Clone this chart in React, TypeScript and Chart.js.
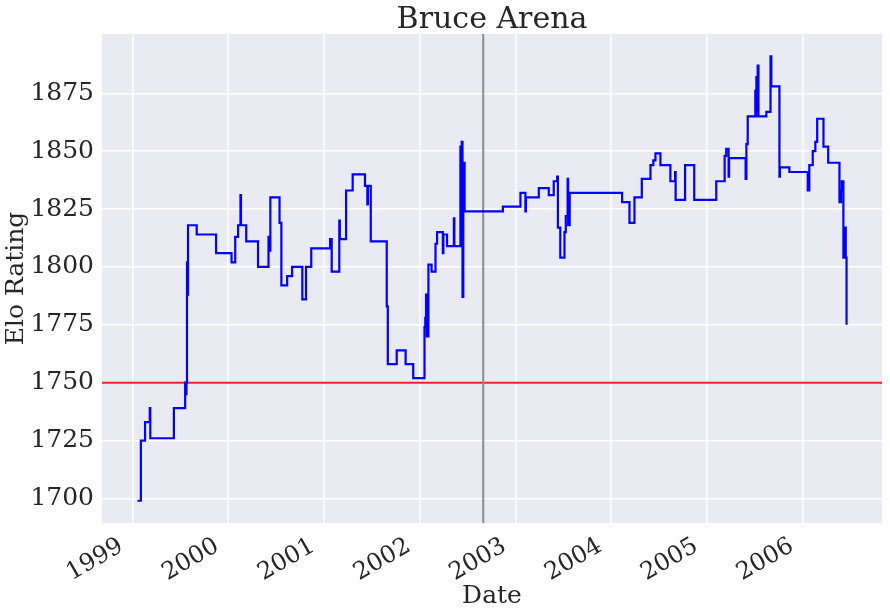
import React, { useEffect, useRef } from 'react';
import { Chart, registerables } from 'chart.js';

Chart.register(...registerables);

const TITLE = 'Bruce Arena';
const X_LABEL = 'Date';
const Y_LABEL = 'Elo Rating';

const dates = [
  '1999-01-20', '1999-02-02', '1999-02-18', '1999-03-08', '1999-03-10', '1999-06-08',
  '1999-07-21', '1999-07-24', '1999-07-26', '1999-07-28', '1999-07-30', '1999-08-01',
  '1999-09-03', '1999-11-16', '2000-01-14', '2000-01-28', '2000-02-08', '2000-02-17',
  '2000-02-19', '2000-03-10', '2000-04-24', '2000-06-03', '2000-06-05', '2000-06-10',
  '2000-07-15', '2000-07-22', '2000-08-13', '2000-09-01', '2000-10-10', '2000-10-24',
  '2000-11-13', '2001-01-24', '2001-01-30', '2001-02-28', '2001-03-02', '2001-03-26',
  '2001-04-20', '2001-06-06', '2001-06-15', '2001-06-17', '2001-06-28', '2001-08-28',
  '2001-09-01', '2001-10-05', '2001-11-08', '2001-12-07', '2002-01-19', '2002-01-22',
  '2002-01-25', '2002-01-28', '2002-02-03', '2002-02-15', '2002-03-02', '2002-03-08',
  '2002-03-30', '2002-04-01', '2002-04-15', '2002-05-11', '2002-05-13', '2002-06-05',
  '2002-06-07', '2002-06-10', '2002-06-13', '2002-06-16', '2002-06-21', '2002-11-14',
  '2003-01-20', '2003-02-08', '2003-02-10', '2003-03-31', '2003-05-08', '2003-05-27',
  '2003-06-09', '2003-06-12', '2003-06-21', '2003-07-07', '2003-07-12', '2003-07-19',
  '2003-07-21', '2003-07-27', '2004-02-12', '2004-03-11', '2004-03-30', '2004-04-27',
  '2004-05-30', '2004-06-10', '2004-06-18', '2004-07-07', '2004-08-14', '2004-09-01',
  '2004-09-03', '2004-10-09', '2004-11-13', '2005-02-05', '2005-03-09', '2005-03-15',
  '2005-03-24', '2005-03-26', '2005-05-28', '2005-05-31', '2005-06-05', '2005-07-04',
  '2005-07-06', '2005-07-08', '2005-07-10', '2005-07-13', '2005-07-16', '2005-08-15',
  '2005-08-31', '2005-09-03', '2005-10-04', '2005-10-06', '2005-11-11', '2006-01-20',
  '2006-01-26', '2006-02-08', '2006-02-18', '2006-02-25', '2006-03-21', '2006-04-08',
  '2006-05-21', '2006-05-27', '2006-05-30', '2006-06-05', '2006-06-12', '2006-06-14',
  '2006-06-17',
];

const elo = [
  1699, 1725, 1733, 1739, 1726, 1739,
  1750, 1745, 1750, 1802, 1788, 1818,
  1814, 1806, 1802, 1813, 1818, 1831,
  1818, 1811, 1800, 1813, 1807, 1830,
  1819, 1792, 1796, 1800, 1786, 1800,
  1808, 1812, 1798, 1820, 1812, 1833,
  1840, 1835, 1827, 1835, 1811, 1783,
  1758, 1764, 1758, 1752, 1774, 1778,
  1788, 1770, 1801, 1798, 1810, 1815,
  1806, 1814, 1809, 1821, 1809, 1852,
  1810, 1854, 1787, 1845, 1824, 1826,
  1832, 1824, 1830, 1834, 1831, 1837,
  1839, 1817, 1804, 1815, 1822, 1838,
  1818, 1832, 1828, 1819, 1830, 1838,
  1844, 1846, 1849, 1844, 1837, 1841,
  1829, 1844, 1829, 1837, 1848, 1851,
  1839, 1847, 1838, 1853, 1865, 1876,
  1865, 1882, 1866, 1887, 1865, 1867,
  1891, 1878, 1839, 1843, 1841, 1833,
  1844, 1850, 1854, 1864, 1852, 1845,
  1828, 1833, 1837, 1804, 1817, 1804,
  1775,
];

const yearTicks = [1999, 2000, 2001, 2002, 2003, 2004, 2005, 2006];
const eloTicks = [1700, 1725, 1750, 1775, 1800, 1825, 1850, 1875];
const baselineElo = 1750;
const markerDate = '2002-08-31';

export default function App() {
  const ref = useRef<HTMLCanvasElement>(null);

  useEffect(() => {
    document.body.style.margin = '0';
    const canvas = ref.current;
    if (!canvas) return;

    const xs = dates.map((d) => Date.parse(d));
    const xMin0 = Math.min(...xs);
    const xMax0 = Math.max(...xs);
    const xPad = (xMax0 - xMin0) * 0.05;
    const xMin = xMin0 - xPad;
    const xMax = xMax0 + xPad;
    const yMin0 = Math.min(...elo);
    const yMax0 = Math.max(...elo);
    const yPad = (yMax0 - yMin0) * 0.05;
    const yMin = yMin0 - yPad;
    const yMax = yMax0 + yPad;
    const markerX = Date.parse(markerDate);

    const family = 'DejaVu Serif';
    const textColor = '#262626';

    const bgPlugin = {
      id: 'plotBg',
      beforeDraw(chart: any) {
        const { ctx, chartArea: a } = chart;
        ctx.save();
        ctx.fillStyle = '#EAEAF2';
        ctx.fillRect(a.left, a.top, a.right - a.left, a.bottom - a.top);
        ctx.restore();
      },
    };

    const titlePlugin = {
      id: 'plotTitle',
      afterDraw(chart: any) {
        const { ctx, chartArea: a } = chart;
        ctx.save();
        ctx.fillStyle = textColor;
        ctx.font = `30px "${family}"`;
        ctx.textAlign = 'center';
        ctx.textBaseline = 'alphabetic';
        ctx.fillText(TITLE, (a.left + a.right) / 2, 27.5);
        ctx.restore();
      },
    };

    const chart = new Chart(canvas, {
      type: 'line',
      data: {
        datasets: [
          {
            data: xs.map((x, i) => ({ x, y: elo[i] })),
            borderColor: '#0000ff',
            borderWidth: 2.2,
            stepped: 'before',
            pointRadius: 0,
            fill: false,
            order: 0,
          },
          {
            data: [
              { x: markerX, y: yMin },
              { x: markerX, y: yMax },
            ],
            borderColor: '#8c8c8c',
            borderWidth: 2,
            pointRadius: 0,
            fill: false,
            order: 1,
          },
          {
            data: [
              { x: xMin, y: baselineElo },
              { x: xMax, y: baselineElo },
            ],
            borderColor: '#ff1f1f',
            borderWidth: 2,
            pointRadius: 0,
            fill: false,
            order: 2,
          },
        ],
      },
      options: {
        animation: false,
        responsive: false,
        layout: { padding: { top: 34, right: 8, left: 0, bottom: 0 } },
        plugins: {
          legend: { display: false },
          tooltip: { enabled: false },
          title: { display: false },
        },
        scales: {
          x: {
            type: 'linear',
            min: xMin,
            max: xMax,
            grid: { color: '#ffffff', lineWidth: 1.5, drawTicks: false },
            border: { display: false },
            afterBuildTicks: (s: any) => {
              s.ticks = yearTicks.map((y) => ({ value: Date.UTC(y, 0, 1) }));
            },
            afterFit: (s: any) => {
              s.height = 93;
            },
            ticks: {
              callback: (v: any) => String(new Date(Number(v)).getUTCFullYear()),
              minRotation: 30,
              maxRotation: 30,
              autoSkip: false,
              padding: 9,
              labelOffset: -11,
              color: textColor,
              font: { size: 24, family },
            },
            title: {
              display: true,
              text: X_LABEL,
              color: textColor,
              font: { size: 25, family },
              padding: { top: 0, bottom: 5 },
            },
          },
          y: {
            type: 'linear',
            min: yMin,
            max: yMax,
            grid: { color: '#ffffff', lineWidth: 1.5, drawTicks: false },
            border: { display: false },
            afterBuildTicks: (s: any) => {
              s.ticks = eloTicks.map((v) => ({ value: v }));
            },
            afterFit: (s: any) => {
              s.width = 102;
            },
            ticks: {
              padding: 8,
              color: textColor,
              font: { size: 25, family },
              callback: (v: any) => String(v),
            },
            title: {
              display: true,
              text: Y_LABEL,
              color: textColor,
              font: { size: 25, family },
              padding: { top: 1, bottom: 0 },
            },
          },
        },
      },
      plugins: [bgPlugin, titlePlugin],
    } as any);

    return () => chart.destroy();
  }, []);

  return <canvas ref={ref} width={890} height={616} style={{ display: 'block' }} />;
}
